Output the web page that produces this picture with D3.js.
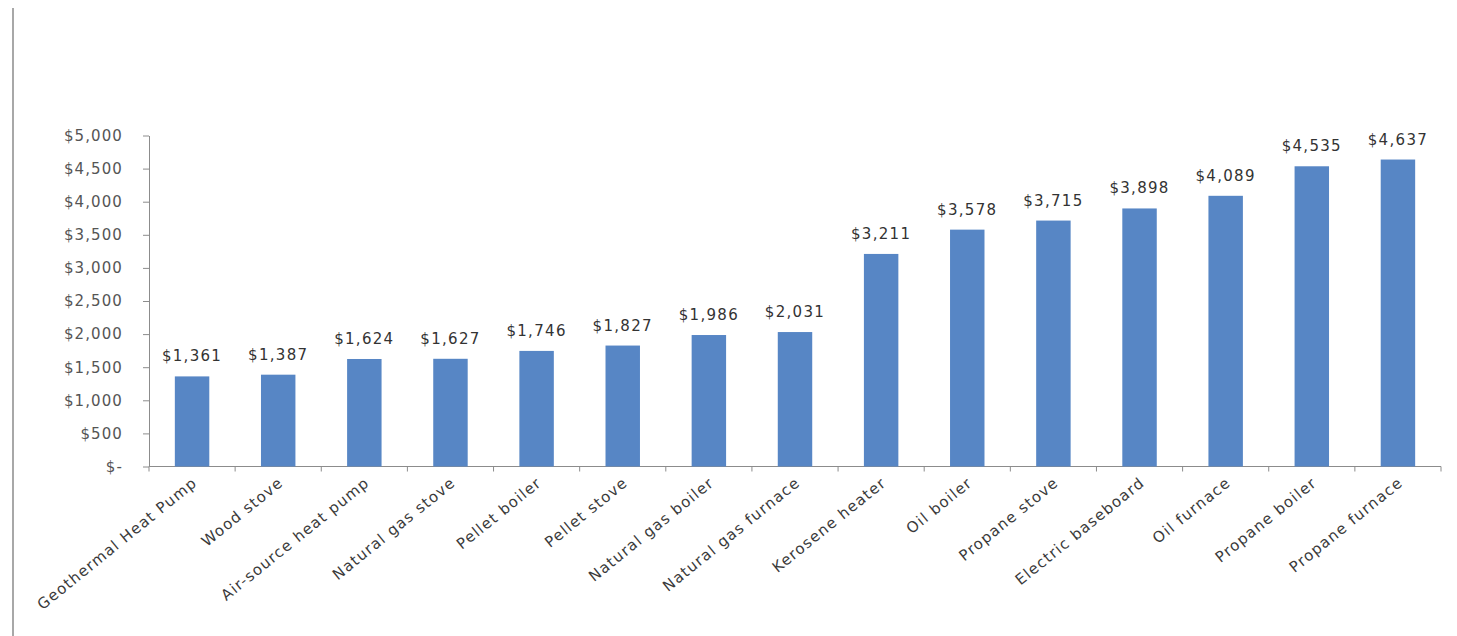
<!DOCTYPE html>
<html>
<head>
<meta charset="utf-8">
<script src="https://cdn.jsdelivr.net/npm/d3@7"></script>
<style>
  body { margin: 0; background: #fff; }
  svg { display: block; }
</style>
</head>
<body>
<svg id="drawing_region"></svg>
<script>
// categories and annual cost values
var categories = ['Geothermal Heat Pump', 'Wood stove', 'Air-source heat pump', 'Natural gas stove',
  'Pellet boiler', 'Pellet stove', 'Natural gas boiler', 'Natural gas furnace', 'Kerosene heater',
  'Oil boiler', 'Propane stove', 'Electric baseboard', 'Oil furnace', 'Propane boiler', 'Propane furnace'];
var values = [1361, 1387, 1624, 1627, 1746, 1827, 1986, 2031, 3211, 3578, 3715, 3898, 4089, 4535, 4637];
var yticks = [0, 500, 1000, 1500, 2000, 2500, 3000, 3500, 4000, 4500, 5000];

var data = categories.map((c, i) => ({label: c, value: values[i]}));

var width = 1457;
var height = 636;
var margin = {top: 135.5, right: 16, bottom: 169.5, left: 149};

var svg = d3.select('#drawing_region')
    .attr('width', width)
    .attr('height', height);

// thin border line on the left edge of the scan
svg.append('line')
    .attr('x1', 13).attr('x2', 13)
    .attr('y1', 8).attr('y2', height)
    .attr('stroke', '#a8a8a8')
    .attr('stroke-width', 2);

var chart = svg.append('g')
    .attr('transform', `translate(${margin.left}, ${margin.top})`);

const inner_width = width - margin.left - margin.right;
const inner_height = height - margin.top - margin.bottom;

const xscale = d3.scaleBand()
    .domain(categories)
    .range([0, inner_width])
    .paddingInner(0.6)
    .paddingOuter(0.3);

const yscale = d3.scaleLinear()
    .domain([0, 5000])
    .range([inner_height, 0]);

const fmt = d3.format(',');
const font = 'DejaVu Sans';

// y axis
const yaxis = d3.axisLeft(yscale)
    .tickValues(yticks)
    .tickSize(6)
    .tickPadding(20)
    .tickSizeOuter(0)
    .tickFormat(d => d === 0 ? '$-' : '$' + fmt(d));

const yaxis_group = chart.append('g').call(yaxis);
yaxis_group.selectAll('path, line').attr('stroke', '#8c8c8c');
yaxis_group.selectAll('text')
    .attr('font-family', font)
    .attr('font-size', 15)
    .attr('letter-spacing', 1.1)
    .attr('fill', '#555');

// x axis: baseline and ticks between categories
chart.append('line')
    .attr('x1', 0).attr('x2', inner_width)
    .attr('y1', inner_height).attr('y2', inner_height)
    .attr('stroke', '#8c8c8c');

const boundaries = d3.range(categories.length + 1).map(i => i * inner_width / categories.length);
chart.selectAll('line.xtick').data(boundaries).enter()
    .append('line')
    .attr('class', 'xtick')
    .attr('x1', d => d).attr('x2', d => d)
    .attr('y1', inner_height).attr('y2', inner_height + 5)
    .attr('stroke', '#8c8c8c');

// category labels, rotated
chart.selectAll('text.cat').data(data).enter()
    .append('text')
    .attr('class', 'cat')
    .attr('transform', d => `translate(${xscale(d.label) + xscale.bandwidth() / 2 + 6}, ${inner_height + 18}) rotate(-39)`)
    .attr('text-anchor', 'end')
    .attr('font-family', font)
    .attr('font-size', 15)
    .attr('letter-spacing', 1.2)
    .attr('fill', '#3a3a3a')
    .text(d => d.label);

// bars
chart.selectAll('rect').data(data).enter()
    .append('rect')
    .attr('x', d => xscale(d.label))
    .attr('y', d => yscale(d.value))
    .attr('width', xscale.bandwidth())
    .attr('height', d => inner_height - yscale(d.value))
    .attr('fill', '#5786c5');

// value labels
chart.selectAll('text.val').data(data).enter()
    .append('text')
    .attr('class', 'val')
    .attr('x', d => xscale(d.label) + xscale.bandwidth() / 2)
    .attr('y', d => yscale(d.value) - 15)
    .attr('text-anchor', 'middle')
    .attr('font-family', font)
    .attr('font-size', 15)
    .attr('letter-spacing', 1.3)
    .attr('fill', '#333')
    .text(d => '$' + fmt(d.value));
</script>
</body>
</html>
